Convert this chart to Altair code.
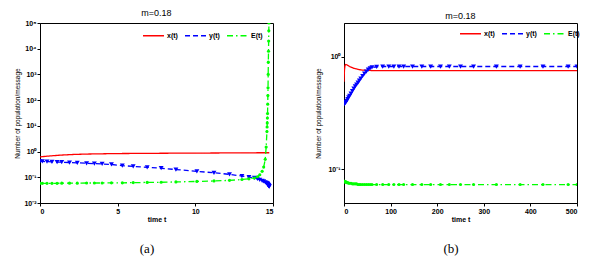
import altair as alt
import pandas as pd

series = ["x(t)", "y(t)", "E(t)"]
colors = ["#ff0000", "#0000ff", "#00ff00"]
dashes = [[1, 0], [5, 3], [6, 3, 1.5, 3]]

# panel (a)
t_a = [0, 0.15, 0.45, 0.77, 1.1, 1.4, 1.9, 2.4, 3.0, 3.5, 4.0, 4.6, 5.3, 6.0, 6.9, 7.8,
       8.75, 10.1, 11.2, 12.2, 13.0, 13.45, 13.8, 14.0, 14.15, 14.3, 14.4, 14.5, 14.56,
       14.61, 14.62, 14.63, 14.64, 14.65, 14.66, 14.67, 14.68, 14.69, 14.7, 14.71, 14.72,
       14.73, 14.74, 14.75, 14.76]
x_a = [0.62, 0.635, 0.66, 0.685, 0.71, 0.73, 0.76, 0.78, 0.8, 0.81, 0.82, 0.83, 0.84, 0.845,
       0.85, 0.86, 0.865, 0.87, 0.88, 0.885, 0.89, 0.89, 0.895, 0.9, 0.9, 0.9, 0.9, 0.9, 0.9,
       0.9, 0.9, 0.9, 0.9, 0.9, 0.9, 0.9, 0.9, 0.9, 0.9, 0.9, 0.9,
       0.9, 0.9, 0.9, 0.9]
y_a = [0.42, 0.415, 0.405, 0.4, 0.39, 0.385, 0.375, 0.365, 0.35, 0.34, 0.33, 0.315, 0.285,
       0.265, 0.245, 0.225, 0.2, 0.17, 0.15, 0.13, 0.112, 0.102, 0.094, 0.086, 0.08, 0.073,
       0.069, 0.064, 0.061, 0.058, 0.057, 0.056, 0.055, 0.054, 0.053, 0.052, 0.051, 0.05,
       0.049, 0.048, 0.047, 0.046, 0.045, 0.044, 0.043]
E_a = [0.058, 0.058, 0.058, 0.058, 0.058, 0.059, 0.059, 0.059, 0.06, 0.06, 0.06, 0.061, 0.061,
       0.062, 0.063, 0.064, 0.066, 0.069, 0.072, 0.076, 0.082, 0.087, 0.094, 0.105, 0.125,
       0.17, 0.25, 0.5, 1.5, 6, 9, 13, 20, 30, 70, 150, 300, 1000, 3000, 8000, 20000,
       50000, 100000, 200000, 400000]

# panel (b)
t_b = [0, 1, 2, 3, 4, 6, 8, 10, 12, 15, 18, 21, 24, 27, 30, 33, 36, 40, 44, 48, 52, 56, 60,
       70, 83, 96, 107, 118, 128, 147, 167, 186, 207, 226, 250, 278, 327, 378, 427, 481, 500]
x_b = [0.6, 0.76, 0.83, 0.85, 0.855, 0.85, 0.84, 0.83, 0.82, 0.81, 0.8, 0.79, 0.785, 0.78,
       0.775, 0.77, 0.765, 0.762, 0.76, 0.758, 0.757, 0.756, 0.755,
       0.755, 0.755, 0.755, 0.755, 0.755, 0.755, 0.755, 0.755, 0.755, 0.755, 0.755, 0.755,
       0.755, 0.755, 0.755, 0.755, 0.755, 0.755]
y_b = [0.38, 0.383, 0.386, 0.39, 0.395, 0.405, 0.42, 0.435, 0.45, 0.47, 0.495, 0.52, 0.545,
       0.565, 0.59, 0.615, 0.64, 0.675, 0.71, 0.74, 0.77, 0.79, 0.805,
       0.815, 0.82, 0.82, 0.82, 0.82, 0.82, 0.82, 0.82, 0.82, 0.82, 0.82, 0.82, 0.82, 0.82,
       0.82, 0.82, 0.82, 0.82]
E_b = [0.078, 0.078, 0.077, 0.077, 0.077, 0.076, 0.076, 0.075, 0.075, 0.075, 0.074, 0.074,
       0.074, 0.074, 0.073, 0.073, 0.073, 0.073, 0.073, 0.073, 0.073, 0.073, 0.073,
       0.073, 0.073, 0.073, 0.073, 0.073, 0.073, 0.073, 0.073, 0.073, 0.073, 0.073, 0.073,
       0.073, 0.073, 0.073, 0.073, 0.073, 0.073]

FONT = "Liberation Sans"
LABEL_EXPR = ("'10' + (round(log(datum.value)/LN10) < 0 ? '\u207b' : '') + "
              "['\u2070','\u00b9','\u00b2','\u00b3','\u2074','\u2075'][abs(round(log(datum.value)/LN10))]")


def long_df(t, xs, ys, es):
    rows = []
    for name, vals in zip(series, [xs, ys, es]):
        for tt, v in zip(t, vals):
            rows.append({"t": tt, "v": v, "s": name})
    return pd.DataFrame(rows)


def panel(df, xdom, xticks, ydom, yticks, label, lx, ly, ytp):
    xenc = alt.X("t:Q", scale=alt.Scale(domain=xdom, nice=False, zero=False),
                 axis=alt.Axis(values=xticks, title="time t", format="d",
                               labelPadding=1, titlePadding=1, tickSize=3))
    yenc = alt.Y("v:Q", scale=alt.Scale(type="log", domain=ydom, nice=False),
                 axis=alt.Axis(values=yticks, labelExpr=LABEL_EXPR,
                               title="Number of population/message",
                               labelPadding=1, titlePadding=ytp, tickSize=3))
    leg = alt.Legend(orient="none", legendX=lx, legendY=ly, direction="horizontal",
                     title=None, symbolType="stroke", symbolSize=440,
                     symbolStrokeWidth=1.3, labelFontSize=7, labelFont=FONT,
                     labelFontWeight="bold", columnPadding=4, labelOffset=2,
                     padding=0)
    base = alt.Chart(df)
    lines = base.mark_line(clip=True, strokeWidth=1.3).encode(
        x=xenc, y=yenc,
        color=alt.Color("s:N", scale=alt.Scale(domain=series, range=colors), legend=leg),
        strokeDash=alt.StrokeDash("s:N", scale=alt.Scale(domain=series, range=dashes), legend=leg),
        detail="s:N",
    )
    tri = base.transform_filter(alt.datum.s == "y(t)").mark_point(
        shape="triangle-down", filled=True, color="#0000ff", size=24, opacity=1, clip=True
    ).encode(x="t:Q", y="v:Q")
    dots = base.transform_filter(alt.datum.s == "E(t)").mark_point(
        shape="circle", filled=True, color="#00ff00", size=10, opacity=1, clip=True
    ).encode(x="t:Q", y="v:Q")
    lab = alt.Chart(pd.DataFrame({"lab": [label]})).mark_text(
        font="Liberation Serif", fontSize=13, color="black"
    ).encode(x=alt.value(107), y=alt.value(226), text="lab:N")
    return alt.layer(lines, tri, dots, lab).properties(
        width=233, height=180,
        title=alt.TitleParams("m=0.18", fontSize=9, font=FONT, fontWeight="normal", offset=1),
    )


left = panel(long_df(t_a, x_a, y_a, E_a), [0, 15], [0, 5, 10, 15],
             [0.01, 100000], [0.01, 0.1, 1, 10, 100, 1000, 10000, 100000], "(a)", 102, 1, 3)
right = panel(long_df(t_b, x_b, y_b, E_b), [0, 500], [0, 100, 200, 300, 400, 500],
              [0.05, 2], [0.1, 1], "(b)", 115, -1, 6)

chart = alt.hconcat(left, right, spacing=41).resolve_scale(
    color="independent", strokeDash="independent"
).properties(
    padding={"left": 6, "top": 0, "right": 0, "bottom": 0}
).configure_view(stroke="black", strokeWidth=1).configure_axis(
    labelFont=FONT, titleFont=FONT, labelFontSize=7, titleFontSize=7,
    labelColor="black", titleColor="black", labelFontWeight="bold", titleFontWeight="bold",
    domainColor="black", tickColor="black", grid=False
).configure_axisY(titleFontSize=6.5, titleFontWeight="normal"
).configure_title(color="black")

chart.save("out.html", embed_options={"renderer": "svg", "actions": False})
